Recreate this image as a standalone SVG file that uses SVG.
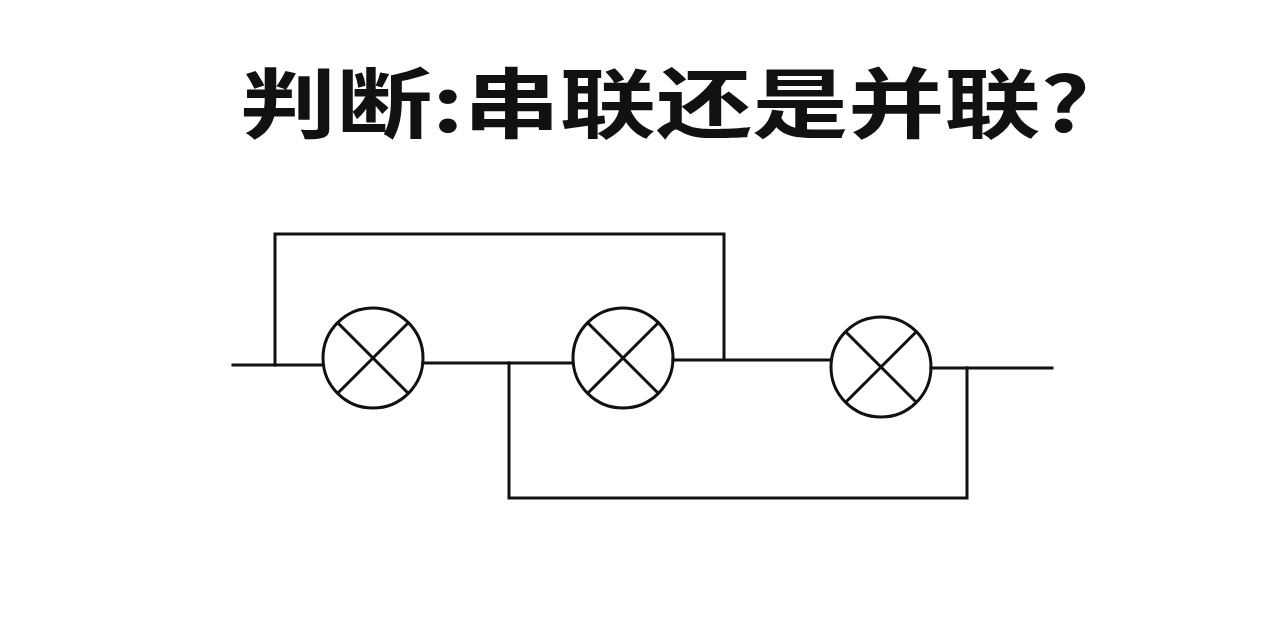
<svg xmlns="http://www.w3.org/2000/svg" width="1280" height="627" viewBox="0 0 1280 627">
<style>
.w{fill:none;stroke:#111;stroke-width:3;stroke-linecap:square}
.t{font-family:"Noto Sans CJK SC","Liberation Sans",sans-serif;font-weight:bold;font-size:76px;fill:#111}
</style>
<defs>
<g id="lamp"><circle r="50" class="w"/><path class="w" d="M-35,-35L35,35M35,-35L-35,35"/></g>
</defs>
<rect width="1280" height="627" fill="#fff"/>
<g id="title"><text class="t" x="240" y="132" textLength="850" lengthAdjust="spacingAndGlyphs">判断:串联还是并联?</text></g>
<g id="lamp1"><use href="#lamp" x="373" y="358"/></g>
<g id="lamp2"><use href="#lamp" x="623" y="358"/></g>
<g id="lamp3"><use href="#lamp" x="881" y="367"/></g>
<g id="connectors">
<path class="w" d="M233,365H323"/>
<path class="w" d="M275,365V234H724V359"/>
<path class="w" d="M423,363H573"/>
<path class="w" d="M509,363V498H967V368"/>
<path class="w" d="M673,360H831"/>
<path class="w" d="M931,368H1052"/>
</g>
</svg>
